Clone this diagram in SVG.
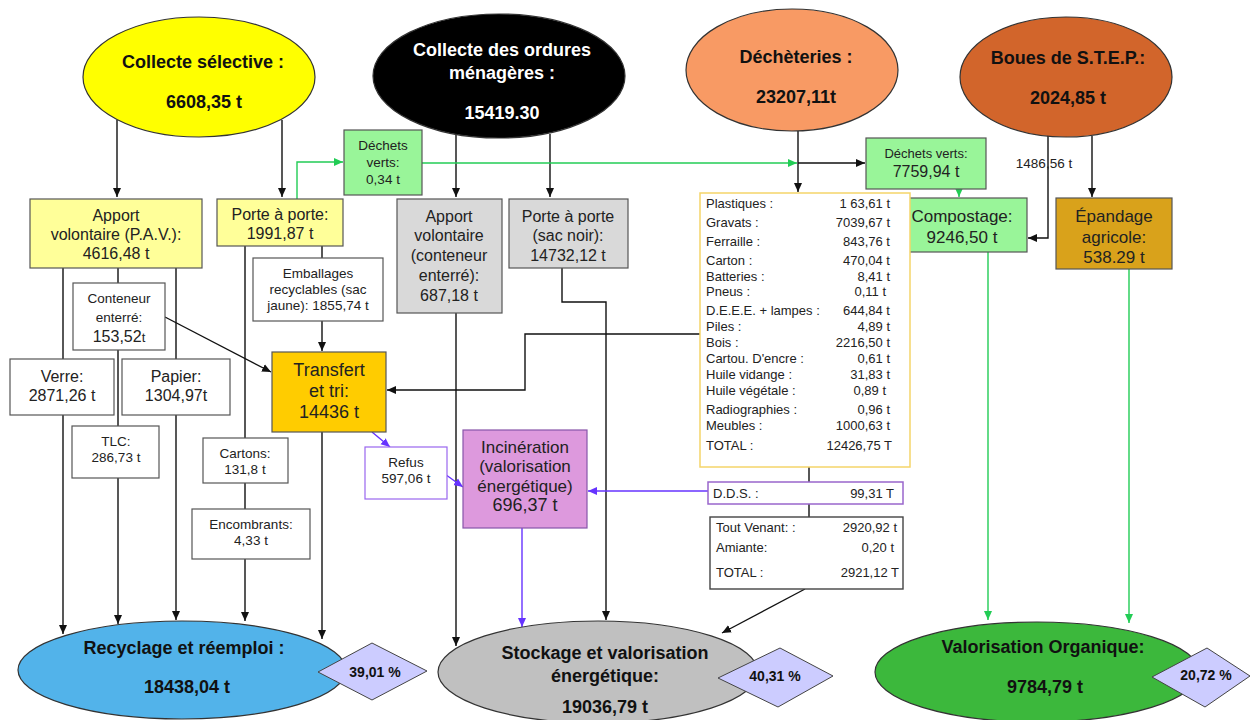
<svg xmlns="http://www.w3.org/2000/svg" width="1250" height="720" viewBox="0 0 1250 720">
<defs>
<marker id="ab" markerWidth="10" markerHeight="10" refX="9" refY="5" orient="auto" markerUnits="userSpaceOnUse"><path d="M0,1 L9,5 L0,9 Z" fill="#111"/></marker>
<marker id="ag" markerWidth="10" markerHeight="10" refX="9" refY="5" orient="auto" markerUnits="userSpaceOnUse"><path d="M0,1 L9,5 L0,9 Z" fill="#22cc55"/></marker>
<marker id="ap" markerWidth="10" markerHeight="10" refX="9" refY="5" orient="auto" markerUnits="userSpaceOnUse"><path d="M0,1 L9,5 L0,9 Z" fill="#6633ff"/></marker>
<style>
text{font-family:"Liberation Sans",Arial,sans-serif;fill:#222}
.t{font-weight:bold;font-size:18px;text-anchor:middle;fill:#111}
.w{fill:#fff}
.b{font-size:16px;text-anchor:middle}
.m{font-size:17px;text-anchor:middle}
.s{font-size:13.5px;text-anchor:middle}
.d{font-size:13px}
.e{text-anchor:end}
.p{font-weight:bold;font-size:14px;text-anchor:middle;fill:#111}
.el{stroke:#333;stroke-width:1.2}
.bx{stroke:#555;stroke-width:1.2}
.k{fill:none;stroke:#111;stroke-width:1.4}
.g{fill:none;stroke:#22cc55;stroke-width:1.4}
.v{fill:none;stroke:#6633ff;stroke-width:1.4}
.dm{fill:#ccccff;stroke:#444;stroke-width:1}
</style>
</defs>
<rect width="1250" height="720" fill="#fff"/>

<g id="connectors">
<path class="k" d="M117,120 V197" marker-end="url(#ab)"/>
<path class="k" d="M282,120 V197" marker-end="url(#ab)"/>
<path class="k" d="M456,134 V197" marker-end="url(#ab)"/>
<path class="k" d="M550,134 V197" marker-end="url(#ab)"/>
<path class="k" d="M798,131 V192" marker-end="url(#ab)"/>
<path class="k" d="M798,163 H865" marker-end="url(#ab)"/>
<path class="k" d="M1048,135 V238 H1028" marker-end="url(#ab)"/>
<path class="k" d="M1092,136 V197" marker-end="url(#ab)"/>
<path class="k" d="M63,268 V359 M118,268 V283 M118,350 V426 M176,268 V359 M245,246 V438 M245,483 V509 M322,246 V258 M809,467 V482 M809,504 V517"/>
<path class="k" d="M63,415 V634" marker-end="url(#ab)"/>
<path class="k" d="M118,478 V624" marker-end="url(#ab)"/>
<path class="k" d="M176,415 V620" marker-end="url(#ab)"/>
<path class="k" d="M245,559 V621" marker-end="url(#ab)"/>
<path class="k" d="M322,321 V351" marker-end="url(#ab)"/>
<path class="k" d="M322,432 V639" marker-end="url(#ab)"/>
<path class="k" d="M165,317 L271,372" marker-end="url(#ab)"/>
<path class="k" d="M700,334 H525 V390 H387" marker-end="url(#ab)"/>
<path class="k" d="M456,313 V646" marker-end="url(#ab)"/>
<path class="k" d="M562,268 V302 H606 V620" marker-end="url(#ab)"/>
<path class="k" d="M805,589 L722,633" marker-end="url(#ab)"/>
<path class="g" d="M297,199 V162 H343" marker-end="url(#ag)"/>
<path class="g" d="M422,163 H797" marker-end="url(#ag)"/>
<path class="g" d="M959,189 V197" marker-end="url(#ag)"/>
<path class="g" d="M988,252 V620" marker-end="url(#ag)"/>
<path class="g" d="M1129,269 V623" marker-end="url(#ag)"/>
<path class="v" d="M372,432 L390,447" marker-end="url(#ap)"/>
<path class="v" d="M442,472 L463,487" marker-end="url(#ap)"/>
<path class="v" d="M708,491 H588" marker-end="url(#ap)"/>
<path class="v" d="M522,528 V627" marker-end="url(#ap)"/>
</g>

<g id="collecte-selective">
<ellipse class="el" cx="199" cy="77" rx="116" ry="60" fill="#ffff00"/>
<text class="t" x="203" y="68">Collecte sélective :</text>
<text class="t" x="204" y="108">6608,35 t</text>
</g>
<g id="collecte-om">
<ellipse class="el" cx="499" cy="76" rx="126" ry="62" fill="#000"/>
<text class="t w" x="502" y="56">Collecte des ordures</text>
<text class="t w" x="502" y="79">ménagères :</text>
<text class="t w" x="502" y="119">15419.30</text>
</g>
<g id="decheteries">
<ellipse class="el" cx="792" cy="70" rx="106" ry="61" fill="#f89a64"/>
<text class="t" x="796" y="63">Déchèteries :</text>
<text class="t" x="796" y="103">23207,11t</text>
</g>
<g id="boues">
<ellipse class="el" cx="1066" cy="77" rx="106" ry="60" fill="#d2652b"/>
<text class="t" x="1068" y="64">Boues de S.T.E.P.:</text>
<text class="t" x="1068" y="104">2024,85 t</text>
</g>

<g id="apport-pav">
<rect class="bx" x="30" y="199" width="172" height="69" fill="#ffff99"/>
<text class="b" x="116" y="221">Apport</text>
<text class="b" x="116" y="240">volontaire (P.A.V.):</text>
<text class="b" x="116" y="259">4616,48 t</text>
</g>
<g id="porte-a-porte">
<rect class="bx" x="217" y="199" width="126" height="47" fill="#ffff99"/>
<text class="b" x="280" y="220">Porte à porte:</text>
<text class="b" x="280" y="239">1991,87 t</text>
</g>
<g id="dechets-verts-1">
<rect class="bx" x="344" y="130" width="78" height="65" fill="#99f599"/>
<text class="s" x="383" y="150">Déchets</text>
<text class="s" x="383" y="167">verts:</text>
<text class="s" x="383" y="184">0,34 t</text>
</g>
<g id="apport-ce">
<rect class="bx" x="397" y="199" width="105" height="114" fill="#d9d9d9"/>
<text class="b" x="449" y="222">Apport</text>
<text class="b" x="449" y="241">volontaire</text>
<text class="b" x="449" y="261">(conteneur</text>
<text class="b" x="449" y="281">enterré):</text>
<text class="b" x="449" y="301">687,18 t</text>
</g>
<g id="pap-sac-noir">
<rect class="bx" x="509" y="199" width="119" height="69" fill="#d9d9d9"/>
<text class="b" x="568" y="222">Porte à porte</text>
<text class="b" x="568" y="241">(sac noir):</text>
<text class="b" x="568" y="261">14732,12 t</text>
</g>
<g id="dechets-verts-2">
<rect class="bx" x="866" y="138" width="120" height="51" fill="#99f599"/>
<text class="d" x="926" y="158" text-anchor="middle">Déchets verts:</text>
<text class="b" x="926" y="177">7759,94 t</text>
</g>
<g id="compostage">
<rect class="bx" x="898" y="198" width="129" height="54" fill="#99f599"/>
<text class="m" x="962" y="222">Compostage:</text>
<text class="m" x="962" y="243">9246,50 t</text>
</g>
<g id="epandage">
<rect class="bx" x="1056" y="198" width="116" height="71" fill="#d9a21b"/>
<text class="m" x="1114" y="222">Épandage</text>
<text class="m" x="1114" y="243">agricole:</text>
<text class="m" x="1114" y="263">538.29 t</text>
</g>
<g id="label-1486">
<text class="s" x="1044" y="168">1486,56 t</text>
</g>

<g id="conteneur-enterre">
<rect class="bx" x="73" y="283" width="92" height="67" fill="#fff"/>
<text class="s" x="119" y="303">Conteneur</text>
<text class="s" x="119" y="322">enterré:</text>
<text class="b" x="119" y="342">153,52<tspan font-size="13px">t</tspan></text>
</g>
<g id="verre">
<rect class="bx" x="10" y="359" width="104" height="56" fill="#fff"/>
<text class="b" x="62" y="382">Verre:</text>
<text class="b" x="62" y="401">2871,26 t</text>
</g>
<g id="papier">
<rect class="bx" x="122" y="359" width="108" height="56" fill="#fff"/>
<text class="b" x="176" y="382">Papier:</text>
<text class="b" x="176" y="401">1304,97t</text>
</g>
<g id="tlc">
<rect class="bx" x="72" y="426" width="87" height="52" fill="#fff"/>
<text class="s" x="116" y="446">TLC:</text>
<text class="s" x="116" y="462">286,73 t</text>
</g>
<g id="emballages">
<rect class="bx" x="253" y="258" width="130" height="63" fill="#fff"/>
<text class="s" x="318" y="278">Emballages</text>
<text class="s" x="318" y="294">recyclables (sac</text>
<text class="s" x="318" y="310">jaune): 1855,74 t</text>
</g>
<g id="transfert">
<rect class="bx" x="272" y="352" width="114" height="80" fill="#ffcc00"/>
<text class="t" x="329" y="376" style="font-weight:normal;fill:#222">Transfert</text>
<text class="t" x="329" y="397" style="font-weight:normal;fill:#222">et tri:</text>
<text class="t" x="329" y="418" style="font-weight:normal;fill:#222">14436 t</text>
</g>
<g id="cartons">
<rect class="bx" x="203" y="438" width="85" height="45" fill="#fff"/>
<text class="s" x="245" y="458">Cartons:</text>
<text class="s" x="245" y="474">131,8 t</text>
</g>
<g id="encombrants">
<rect class="bx" x="192" y="509" width="118" height="50" fill="#fff"/>
<text class="s" x="251" y="529">Encombrants:</text>
<text class="s" x="251" y="545">4,33 t</text>
</g>
<g id="refus">
<rect x="365" y="447" width="82" height="52" fill="#fff" stroke="#9966ee" stroke-width="1.2"/>
<text class="s" x="406" y="467">Refus</text>
<text class="s" x="406" y="483">597,06 t</text>
</g>
<g id="incineration">
<rect x="463" y="430" width="124" height="98" fill="#dd99dd" stroke="#8855aa" stroke-width="1.2"/>
<text class="m" x="525" y="453">Incinération</text>
<text class="m" x="525" y="472">(valorisation</text>
<text class="m" x="525" y="492">énergétique)</text>
<text class="m" x="525" y="511" style="font-size:18px">696,37 t</text>
</g>

<g id="decheteries-detail">
<rect x="700" y="193" width="210" height="274" fill="#fff" stroke="#f5d56a" stroke-width="1.5"/>
<g class="d">
<text x="706" y="208">Plastiques :</text><text class="e" x="890" y="208">1 63,61 t</text>
<text x="706" y="227">Gravats :</text><text class="e" x="890" y="227">7039,67 t</text>
<text x="706" y="246">Ferraille :</text><text class="e" x="890" y="246">843,76 t</text>
<text x="706" y="265">Carton :</text><text class="e" x="890" y="265">470,04 t</text>
<text x="706" y="281">Batteries :</text><text class="e" x="890" y="281">8,41 t</text>
<text x="706" y="296">Pneus :</text><text class="e" x="886" y="296">0,11 t</text>
<text x="706" y="315">D.E.E.E. + lampes :</text><text class="e" x="890" y="315">644,84 t</text>
<text x="706" y="331">Piles :</text><text class="e" x="890" y="331">4,89 t</text>
<text x="706" y="347">Bois :</text><text class="e" x="890" y="347">2216,50 t</text>
<text x="706" y="363">Cartou. D'encre :</text><text class="e" x="890" y="363">0,61 t</text>
<text x="706" y="379">Huile vidange :</text><text class="e" x="890" y="379">31,83 t</text>
<text x="706" y="395">Huile végétale :</text><text class="e" x="886" y="395">0,89 t</text>
<text x="706" y="414">Radiographies :</text><text class="e" x="890" y="414">0,96 t</text>
<text x="706" y="430">Meubles :</text><text class="e" x="890" y="430">1000,63 t</text>
<text x="706" y="450">TOTAL :</text><text class="e" x="892" y="450">12426,75 T</text>
</g>
</g>
<g id="dds">
<rect x="708" y="482" width="195" height="22" fill="#fff" stroke="#9966cc" stroke-width="1.5"/>
<text class="d" x="713" y="498">D.D.S. :</text>
<text class="d e" x="894" y="498">99,31 T</text>
</g>
<g id="tout-venant">
<rect x="710" y="517" width="193" height="72" fill="#fff" stroke="#444" stroke-width="1.4"/>
<g class="d">
<text x="716" y="532">Tout Venant: :</text><text class="e" x="897" y="532">2920,92 t</text>
<text x="716" y="552">Amiante:</text><text class="e" x="894" y="552">0,20 t</text>
<text x="716" y="577">TOTAL :</text><text class="e" x="899" y="577">2921,12 T</text>
</g>
</g>

<g id="recyclage">
<ellipse class="el" cx="182" cy="670" rx="164" ry="49" fill="#52b3ea"/>
<text class="t" x="184" y="654">Recyclage et réemploi :</text>
<text class="t" x="187" y="693">18438,04 t</text>
</g>
<g id="pct-recyclage">
<polygon class="dm" points="318,672 372,643 427,671 372,700"/>
<text class="p" x="375" y="677">39,01 %</text>
</g>
<g id="stockage">
<ellipse class="el" cx="598" cy="672" rx="160" ry="51" fill="#c0c0c0"/>
<text class="t" x="605" y="659">Stockage et valorisation</text>
<text class="t" x="605" y="682">énergétique:</text>
<text class="t" x="605" y="713">19036,79 t</text>
</g>
<g id="pct-stockage">
<polygon class="dm" points="718,678 780,648 833,676 778,707"/>
<text class="p" x="775" y="681">40,31 %</text>
</g>
<g id="valorisation-organique">
<ellipse class="el" cx="1037" cy="672" rx="162" ry="50" fill="#3cb83c"/>
<text class="t" x="1043" y="653">Valorisation Organique:</text>
<text class="t" x="1045" y="693">9784,79 t</text>
</g>
<g id="pct-organique">
<polygon class="dm" points="1152,677 1207,648 1250,676 1205,707"/>
<text class="p" x="1206" y="680">20,72 %</text>
</g>
</svg>
